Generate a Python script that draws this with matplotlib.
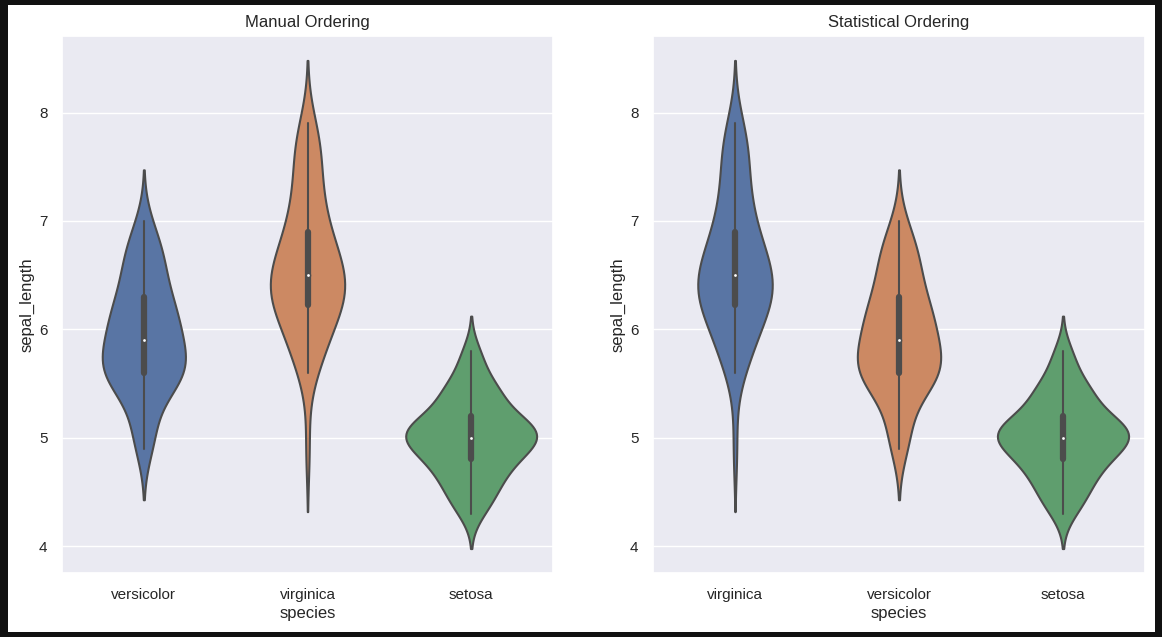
import numpy as np
import matplotlib
matplotlib.use("Agg")
import matplotlib.pyplot as plt
import matplotlib.colors as mcolors
from matplotlib.patches import Rectangle
import colorsys
import seaborn as sns

sns.set_theme(style="darkgrid")
plt.rcParams['font.family'] = ['Liberation Sans', 'DejaVu Sans']
plt.rcParams['lines.solid_capstyle'] = 'round'

# Iris sepal_length by species
setosa = [5.1, 4.9, 4.7, 4.6, 5.0, 5.4, 4.6, 5.0, 4.4, 4.9, 5.4, 4.8, 4.8, 4.3, 5.8, 5.7, 5.4, 5.1, 5.7, 5.1,
          5.4, 5.1, 4.6, 5.1, 4.8, 5.0, 5.0, 5.2, 5.2, 4.7, 4.8, 5.4, 5.2, 5.5, 4.9, 5.0, 5.5, 4.9, 4.4, 5.1,
          5.0, 4.5, 4.4, 5.0, 5.1, 4.8, 5.1, 4.6, 5.3, 5.0]
versicolor = [7.0, 6.4, 6.9, 5.5, 6.5, 5.7, 6.3, 4.9, 6.6, 5.2, 5.0, 5.9, 6.0, 6.1, 5.6, 6.7, 5.6, 5.8, 6.2, 5.6,
              5.9, 6.1, 6.3, 6.1, 6.4, 6.6, 6.8, 6.7, 6.0, 5.7, 5.5, 5.5, 5.8, 6.0, 5.4, 6.0, 6.7, 6.3, 5.6, 5.5,
              5.5, 6.1, 5.8, 5.0, 5.6, 5.7, 5.7, 6.2, 5.1, 5.7]
virginica = [6.3, 5.8, 7.1, 6.3, 6.5, 7.6, 4.9, 7.3, 6.7, 7.2, 6.5, 6.4, 6.8, 5.7, 5.8, 6.4, 6.5, 7.7, 7.7, 6.0,
             6.9, 5.6, 7.7, 6.3, 6.7, 7.2, 6.2, 6.1, 6.4, 7.2, 7.4, 7.9, 6.4, 6.3, 6.1, 7.7, 6.3, 6.4, 6.0, 6.9,
             6.7, 6.9, 5.8, 6.8, 6.7, 6.7, 6.3, 6.5, 6.2, 5.9]

data = {"setosa": setosa, "versicolor": versicolor, "virginica": virginica}
manual_order = ["versicolor", "virginica", "setosa"]
stat_order = sorted(data, key=lambda k: -np.median(data[k]))
titles = ["Manual Ordering", "Statistical Ordering"]

palette = [sns.desaturate(c, 0.75) for c in sns.color_palette("deep", 3)]
lum = min(colorsys.rgb_to_hls(*c)[1] for c in palette) * 0.6
gray = mcolors.rgb2hex((lum, lum, lum))
lw = 1.5
cut = 2
gridsize = 100
width = 0.8


def kde(vals):
    x = np.asarray(vals, float)
    n = len(x)
    bw = n ** (-1 / 5) * x.std(ddof=1)
    support = np.linspace(x.min() - cut * bw, x.max() + cut * bw, gridsize)
    dens = np.exp(-0.5 * ((support[:, None] - x[None, :]) / bw) ** 2).sum(1) / (n * bw * np.sqrt(2 * np.pi))
    return support, dens


W, H = 1162, 637
fig = plt.figure(figsize=(W / 100, H / 100), dpi=100)
fig.patch.set_facecolor("#111111")
fig.patches.append(Rectangle((8 / W, 1 - 632 / H), (1155 - 8) / W, (632 - 5) / H,
                             transform=fig.transFigure, facecolor="white", edgecolor="none", zorder=-1))

boxes = [(62, 553), (653, 1145)]
y0, y1 = 36, 573
for (xa, xb), order, title in zip(boxes, [manual_order, stat_order], titles):
    ax = fig.add_axes([xa / W, 1 - y1 / H, (xb - xa) / W, (y1 - y0) / H])
    kdes = [kde(data[k]) for k in order]
    maxd = max(d.max() for _, d in kdes)
    for i, (k, (sup, d)) in enumerate(zip(order, kdes)):
        d = d / maxd * width / 2
        ax.fill_betweenx(sup, i - d, i + d, facecolor=palette[i], edgecolor=gray, linewidth=lw, zorder=2)
        v = np.asarray(data[k])
        q25, q50, q75 = np.percentile(v, [25, 50, 75])
        wl = 1.5 * (q75 - q25)
        h1 = v[v >= q25 - wl].min()
        h2 = v[v <= q75 + wl].max()
        ax.plot([i, i], [h1, h2], linewidth=lw, color=gray, zorder=3)
        ax.plot([i, i], [q25, q75], linewidth=lw * 3, color=gray, zorder=3)
        ax.scatter(i, q50, zorder=4, color="white", edgecolor=gray, s=(lw * 2) ** 2)
    ax.set_xticks(range(len(order)))
    ax.set_xticklabels(order)
    ax.set_xlim(-0.5, len(order) - 0.5)
    ax.xaxis.grid(False)
    ax.tick_params(axis="x", pad=5)
    ax.tick_params(axis="y", pad=4.5)
    ax.set_xlabel("species", labelpad=3)
    ax.set_ylabel("sepal_length", labelpad=3)
    ax.set_title(title, pad=6.5)

fig.savefig("out.png", dpi=100, facecolor=fig.get_facecolor())
